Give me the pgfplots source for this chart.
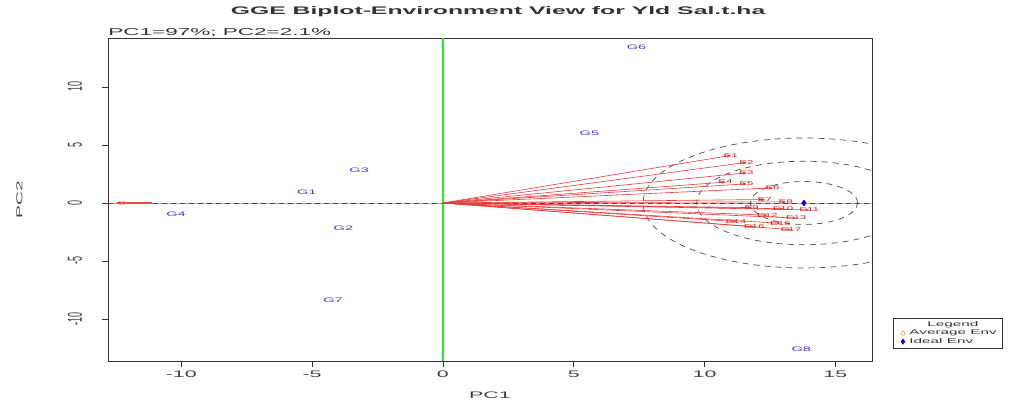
\documentclass[border=0pt]{standalone}
\usepackage{pgfplots}
\pgfplotsset{compat=1.18}
\usepackage{pgfplotstable}
\usepackage{fontspec}
\setmainfont{Liberation Sans}
\usetikzlibrary{arrows.meta}
\definecolor{gblue}{RGB}{60,60,215}
\definecolor{ered}{RGB}{225,25,25}
\definecolor{rgreen}{RGB}{40,235,40}
\definecolor{aorange}{RGB}{245,160,60}

\pgfplotstableread{
x y lab
7.4 13.4 G6
5.6 6.0 G5
-3.2 2.8 G3
-5.2 0.95 G1
-3.8 -2.2 G2
-4.2 -8.4 G7
-10.2 -0.95 G4
13.7 -12.6 G8
}\gen

\pgfplotstableread{
x y u v lab
0 0 11.0 4.1 E1
0 0 11.6 3.5 E2
0 0 11.6 2.6 E3
0 0 10.8 1.8 E4
0 0 11.6 1.65 E5
0 0 12.6 1.3 E6
0 0 12.3 0.3 E7
0 0 13.1 0.1 E8
0 0 11.8 -0.4 E9
0 0 13.0 -0.5 E10
0 0 14.0 -0.6 E11
0 0 12.4 -1.05 E12
0 0 13.5 -1.3 E13
0 0 11.2 -1.6 E14
0 0 12.9 -1.75 E15
0 0 11.9 -2.05 E16
0 0 13.3 -2.3 E17
}\env

\begin{document}
\begin{tikzpicture}
\path[use as bounding box] (0,0) rectangle (1018pt,401pt);
\begin{axis}[
  name=ax,
  at={(108pt,40pt)}, anchor=south west,
  scale only axis, width=764pt, height=323pt,
  xmin=-12.8, xmax=16.4, ymin=-13.62, ymax=14.22,
  xtick={-10,-5,0,5,10,15}, ytick={-10,-5,0,5,10},
  xtick pos=bottom, ytick pos=left, tick align=outside,
  major tick length=6pt,
  tick style={black!80, line width=0.6pt},
  axis line style={black!80, line width=0.8pt},
  /pgf/number format/assume math mode=true,
  xticklabel style={font=\fontsize{9.5}{11}\selectfont, text=black!75, xscale=2.25},
  yticklabel style={font=\fontsize{9}{11}\selectfont, text=black!75, xscale=2.25, rotate=90, anchor=south},
  yticklabel shift=12pt,
  xlabel={PC1}, ylabel={PC2},
  xlabel style={font=\fontsize{9.5}{11}\selectfont, text=black!75, xscale=2.25, at={(axis description cs:0.5,-0.105)}, anchor=center},
  ylabel style={font=\fontsize{8.5}{11}\selectfont, text=black!75, xscale=2.25, rotate=0, at={(axis description cs:-0.116,0.5)}, anchor=center},
  legend style={at={(axis description cs:1.027,0.133)}, anchor=north west, draw=black!80, line width=0.6pt,
    font=\fontsize{6.8}{8}\selectfont, text=black!80, nodes={xscale=2.25}, inner sep=1.5pt, row sep=-2pt},
  legend cell align=left,
]
% AEA axes
\addplot[aorange, line width=0.6pt, forget plot] coordinates {(-12.8,0) (16.4,0)};
\addplot[green!45!black, dash pattern=on 5pt off 4pt, line width=0.6pt, forget plot] coordinates {(-12.8,0) (16.4,0)};
\addplot[rgreen, line width=1.8pt, forget plot] coordinates {(0,-13.62) (0,14.22)};
% circles around ideal env
\draw[black!70, line width=0.7pt, dash pattern=on 6pt off 5pt] (axis cs:13.8,0) ellipse [x radius=2.05, y radius=1.85];
\draw[black!70, line width=0.7pt, dash pattern=on 6pt off 5pt] (axis cs:13.8,0) ellipse [x radius=4.1, y radius=3.6];
\draw[black!70, line width=0.7pt, dash pattern=on 6pt off 5pt] (axis cs:13.8,0) ellipse [x radius=6.15, y radius=5.6];
% environment vectors
\addplot[ered!85, line width=0.6pt, -{Stealth[length=4pt,width=3pt]}, quiver={u=\thisrow{u}, v=\thisrow{v}}, forget plot] table[x=x, y=y] {\env};
\addplot[only marks, mark=none, forget plot, nodes near coords, point meta=explicit symbolic,
  every node near coord/.style={font=\fontsize{5.5}{6}\selectfont, text=ered, anchor=center, xscale=2.1, inner sep=0pt}]
  table[x=u, y=v, meta=lab] {\env};
% genotypes
\addplot[only marks, mark=none, forget plot, nodes near coords, point meta=explicit symbolic,
  every node near coord/.style={font=\fontsize{6.5}{7}\selectfont, text=gblue, anchor=center, xscale=2.25, inner sep=0pt}]
  table[x=x, y=y, meta=lab] {\gen};
% average env arrow (left)
\addplot[ered!80, line width=1.2pt, -{Stealth[length=5pt,width=4pt]}, forget plot] coordinates {(-11.1,0) (-12.5,0)};
\addplot[only marks, mark=o, mark size=2pt, aorange, forget plot] coordinates {(-12.2,0)};
% ideal env
\addplot[only marks, mark=diamond*, mark size=3pt, blue, forget plot] coordinates {(13.8,0)};
% legend
\addlegendimage{empty legend}\addlegendentry{\hspace*{8pt}Legend}
\addlegendimage{only marks, mark=o, mark size=2pt, aorange}\addlegendentry{Average Env}
\addlegendimage{only marks, mark=diamond*, mark size=2.5pt, blue}\addlegendentry{Ideal Env}
\end{axis}
\node[anchor=center, font=\bfseries\fontsize{11}{13}\selectfont, text=black!80, xscale=2.25, inner sep=0pt] at (498pt,389pt) {GGE Biplot-Environment View for Yld Sal.t.ha};
\node[anchor=south west, font=\fontsize{10}{12}\selectfont, text=black!80, xscale=2.25, inner sep=0pt] at (108pt,364.5pt) {PC1=97\%; PC2=2.1\%};
\end{tikzpicture}
\end{document}
